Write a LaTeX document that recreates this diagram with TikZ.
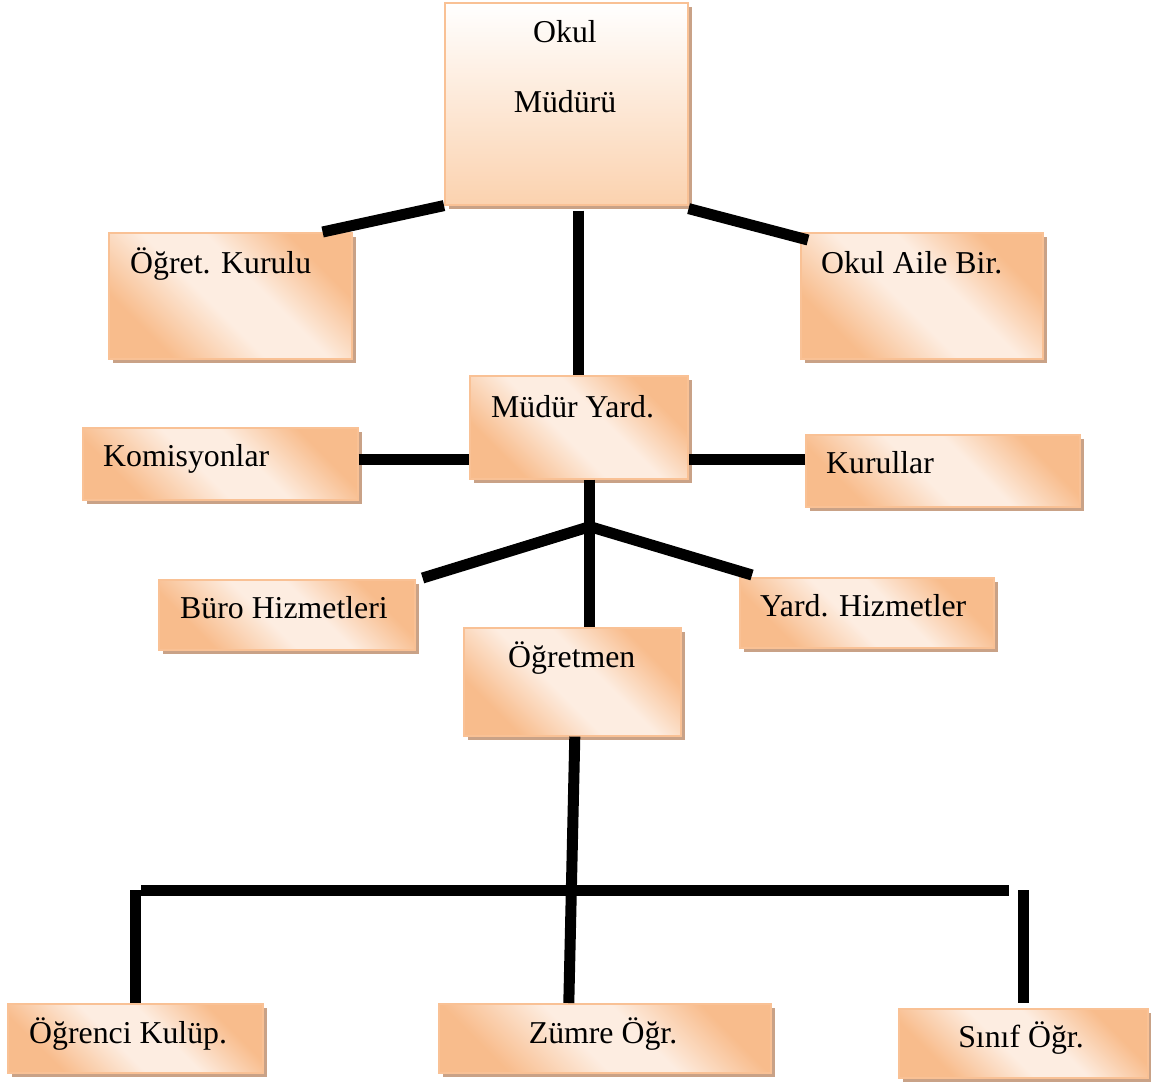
\documentclass[tikz,border=0pt]{standalone}
\usepackage{fontspec}
\setmainfont{Liberation Serif}
\usetikzlibrary{calc,shadows}
\definecolor{pk}{HTML}{F8BC8C}
\definecolor{lt}{HTML}{FDEDE1}
\definecolor{bordc}{HTML}{F9C195}
\definecolor{shc}{HTML}{C9A287}
\definecolor{omb}{HTML}{FBD2AF}
\pgfdeclareverticalshading{peachdiag}{100bp}{color(0bp)=(pk); color(27bp)=(pk); color(45bp)=(lt); color(57bp)=(lt); color(73bp)=(pk); color(100bp)=(pk)}
\tikzset{
  boxbase/.style={draw=bordc, line width=1.6pt, anchor=north west, inner sep=0pt,
    drop shadow={shadow xshift=4pt, shadow yshift=-4pt, fill=shc, opacity=1}},
  box/.style={boxbase, shading=peachdiag, shading angle=-45},
  topbox/.style={boxbase, top color=white, bottom color=omb},
  lbl/.style={font=\fontsize{31.8}{38}\selectfont, inner sep=0pt, text=black},
  conn/.style={line width=11pt, draw=black, line cap=butt},
}
\begin{document}
\begin{tikzpicture}[x=1pt,y=-1pt]
\useasboundingbox (0,0) rectangle (1151,1082);
% boxes
\node[topbox, minimum width=243pt, minimum height=202pt] (om) at (444,2) {};
\node[box, minimum width=243pt, minimum height=126pt] (ok) at (108,232) {};
\node[box, minimum width=242pt, minimum height=126pt] (oab) at (800,232) {};
\node[box, minimum width=218pt, minimum height=103pt] (my) at (469,375) {};
\node[box, minimum width=275pt, minimum height=72pt] (kom) at (82,427) {};
\node[box, minimum width=274pt, minimum height=72pt] (kur) at (805,434) {};
\node[box, minimum width=256pt, minimum height=70pt] (bu) at (158,579) {};
\node[box, minimum width=254pt, minimum height=70pt] (yh) at (739,577) {};
\node[box, minimum width=217pt, minimum height=108pt] (og) at (463,627) {};
\node[box, minimum width=255pt, minimum height=69pt] (oku) at (7,1003) {};
\node[box, minimum width=332pt, minimum height=69pt] (zu) at (438,1003) {};
\node[box, minimum width=249pt, minimum height=69pt] (si) at (898,1008) {};
% texts
\node[lbl, anchor=base] (om-t1) at (565,42) {Okul};
\node[lbl, anchor=base] (om-t2) at (565,112) {Müdürü};
\node[lbl, anchor=base west] (ok-t) at (130,273) {Öğret. Kurulu};
\node[lbl, anchor=base west] (oab-t) at (821,273) {Okul Aile Bir.};
\node[lbl, anchor=base west] (my-t) at (491,417) {Müdür Yard.};
\node[lbl, anchor=base west] (kom-t) at (103,466) {Komisyonlar};
\node[lbl, anchor=base west] (kur-t) at (826,473) {Kurullar};
\node[lbl, anchor=base west] (bu-t) at (180,618) {Büro Hizmetleri};
\node[lbl, anchor=base west] (yh-t) at (760,616) {Yard. Hizmetler};
\node[lbl, anchor=base west] (og-t) at (508,667) {Öğretmen};
\node[lbl, anchor=base west] (oku-t) at (29,1043) {Öğrenci Kulüp.};
\node[lbl, anchor=base] (zu-t) at (603,1043) {Zümre Öğr.};
\node[lbl, anchor=base] (si-t) at (1021,1047) {Sınıf Öğr.};
% connectors
\draw[conn] (om.south west) -- ([xshift=-30pt]ok.north east);
\draw[conn] ([yshift=-3pt]om.south east) -- ([xshift=8pt,yshift=-8pt]oab.north west);
\draw[conn] ([yshift=-5pt]my.north |- om.south) -- (my.north);
\draw[conn] ([yshift=4pt]kom.east) -- ([yshift=4pt]kom.east -| my.west);
\draw[conn] ([yshift=11pt]kur.west) -- ([yshift=11pt]kur.west -| my.east);
\draw[conn] ([xshift=11pt]my.south) -- ([xshift=11pt]my.south |- og.north);
\coordinate (jn) at ([xshift=11pt,yshift=-47pt]my.south);
\draw[conn] (jn) -- ([xshift=7pt,yshift=1pt]bu.north east);
\draw[conn] (jn) -- ([xshift=13pt,yshift=2pt]yh.north west);
\draw[conn] ([xshift=2.5pt]og.south) -- ([xshift=-36pt]zu.north);
\coordinate (hl) at (141,890);
\coordinate (hr) at (1009,890);
\draw[conn] (hl) -- (hr);
\draw[conn] (oku.north |- hl) -- (oku.north);
\draw[conn] (si.north |- hl) -- ([yshift=5pt]si.north);
\end{tikzpicture}
\end{document}
